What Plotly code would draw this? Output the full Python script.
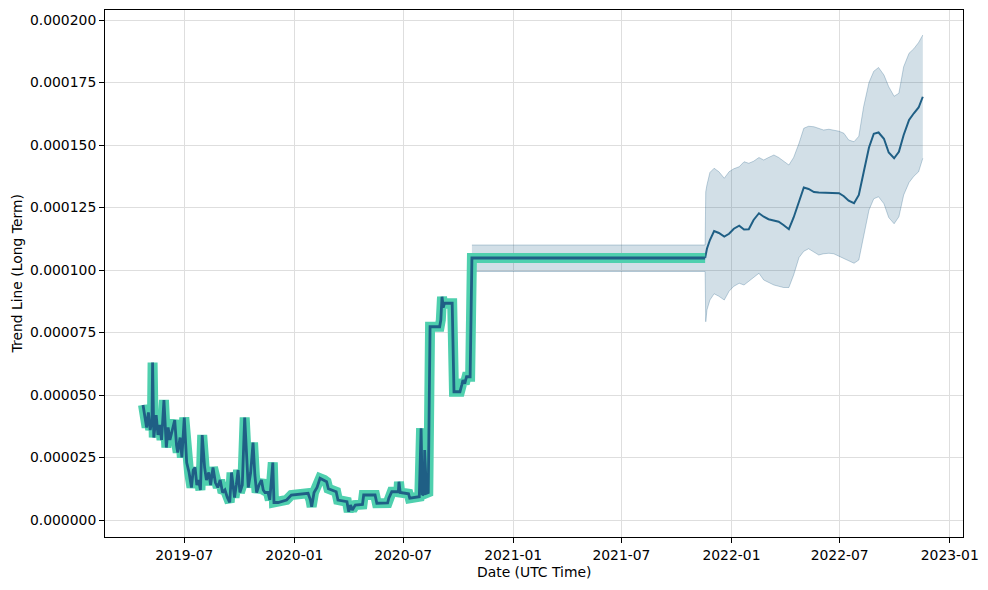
import plotly.graph_objects as go

# ---------------- data (values in units of 1e-6) ----------------
hist_dates = [
    "2019-04-23", "2019-04-26", "2019-04-29", "2019-05-02", "2019-05-05", "2019-05-08",
    "2019-05-09", "2019-05-11", "2019-05-15", "2019-05-18", "2019-05-21", "2019-05-24",
    "2019-05-28", "2019-06-01", "2019-06-04", "2019-06-07", "2019-06-11", "2019-06-15",
    "2019-06-18", "2019-06-20", "2019-06-24", "2019-06-27", "2019-07-01", "2019-07-05",
    "2019-07-09", "2019-07-13", "2019-07-16", "2019-07-19", "2019-07-22", "2019-07-25",
    "2019-07-28", "2019-07-31", "2019-08-04", "2019-08-07", "2019-08-11", "2019-08-14",
    "2019-08-18", "2019-08-22", "2019-08-26", "2019-08-30", "2019-09-03", "2019-09-07",
    "2019-09-11", "2019-09-15", "2019-09-18", "2019-09-21", "2019-09-23", "2019-09-26",
    "2019-09-29", "2019-10-02", "2019-10-06", "2019-10-10", "2019-10-13", "2019-10-16",
    "2019-10-20", "2019-10-24", "2019-10-27", "2019-10-30", "2019-11-03", "2019-11-07",
    "2019-11-10", "2019-11-13", "2019-11-18", "2019-11-21", "2019-11-26", "2019-11-28",
    "2019-12-05", "2019-12-19", "2019-12-27", "2020-01-10", "2020-01-24", "2020-01-28",
    "2020-01-30", "2020-02-03", "2020-02-08", "2020-02-13", "2020-02-20", "2020-02-24",
    "2020-02-27", "2020-03-03", "2020-03-11", "2020-03-14", "2020-03-29", "2020-04-01",
    "2020-04-04", "2020-04-07", "2020-04-12", "2020-04-24", "2020-04-26", "2020-05-15",
    "2020-05-18", "2020-06-05", "2020-06-07", "2020-06-12", "2020-06-23", "2020-06-24",
    "2020-06-26", "2020-07-10", "2020-07-12", "2020-07-28", "2020-07-31", "2020-08-02",
    "2020-08-05", "2020-08-06", "2020-08-09", "2020-08-12", "2020-08-15", "2020-08-31",
    "2020-09-02", "2020-09-04", "2020-09-06", "2020-09-08", "2020-09-21", "2020-09-24",
    "2020-10-04", "2020-10-07", "2020-10-09", "2020-10-12", "2020-10-15", "2020-10-21",
    "2020-10-24", "2021-11-18",
]
hist_trend_u = [
    46, 41, 37, 43, 36, 40,
    63, 33, 42, 34, 38, 32,
    48, 29, 37, 32, 36, 40,
    30, 27, 33, 25, 41, 23,
    19, 13, 20, 21, 14, 16,
    12, 34, 21, 16, 19, 14,
    21, 15, 13, 16, 11, 12,
    9, 7, 19, 11, 9, 14,
    20, 11, 14, 41, 27, 13,
    19, 31, 18, 11, 14, 16,
    12, 11, 11, 8, 23, 7,
    7, 8, 10, 10.4, 10.7, 8,
    5.3, 11, 13, 16.7, 16, 15.3,
    12.5, 12, 11.3, 8, 7.3, 3.3,
    6, 4, 6, 6.2, 10, 10,
    6.7, 6.8, 8.7, 11.3, 11.3, 15.3,
    11, 10.5, 8.7, 9.3, 36.7, 10,
    10.5, 28, 10.7, 11, 77.3, 77.3,
    80, 89.3, 85, 86.7, 86.7, 51.3,
    51.3, 54, 56, 54.5, 57.3, 57.3,
    104.8, 104.8,
]

fc_dates = [
    "2021-11-18", "2021-11-21", "2021-11-26", "2021-12-03", "2021-12-11", "2021-12-20",
    "2021-12-28", "2022-01-05", "2022-01-14", "2022-01-22", "2022-01-30", "2022-02-07",
    "2022-02-16", "2022-02-24", "2022-03-04", "2022-03-13", "2022-03-21", "2022-03-29",
    "2022-04-07", "2022-04-15", "2022-04-24", "2022-05-02", "2022-05-10", "2022-05-19",
    "2022-05-27", "2022-06-04", "2022-06-13", "2022-06-21", "2022-06-30", "2022-07-08",
    "2022-07-16", "2022-07-25", "2022-08-02", "2022-08-10", "2022-08-19", "2022-08-27",
    "2022-09-04", "2022-09-13", "2022-09-21", "2022-09-30", "2022-10-08", "2022-10-16",
    "2022-10-25", "2022-11-02", "2022-11-10", "2022-11-17",
]
fc_trend_u = [
    104.8, 108.5, 112, 115.6, 114.8, 113.4,
    114.5, 116.5, 117.7, 116.2, 116.3, 120,
    122.7, 121.3, 120.3, 119.7, 119.3, 118,
    116.3, 121, 127.5, 133, 132.4, 131.2,
    131, 131, 130.8, 130.8, 130.7, 129.5,
    127.7, 126.7, 130, 139, 149, 154.5,
    155, 152.5, 147, 144.7, 147.3, 154,
    160, 162.7, 165, 169.3,
]

band_dates = [
    "2020-10-24", "2021-11-18",
    "2021-11-19", "2021-11-21", "2021-11-26", "2021-12-03", "2021-12-11", "2021-12-20",
    "2021-12-28", "2022-01-05", "2022-01-14", "2022-01-22", "2022-01-30", "2022-02-07",
    "2022-02-16", "2022-02-24", "2022-03-04", "2022-03-13", "2022-03-21", "2022-03-29",
    "2022-04-07", "2022-04-15", "2022-04-24", "2022-05-02", "2022-05-10", "2022-05-19",
    "2022-05-27", "2022-06-04", "2022-06-13", "2022-06-21", "2022-06-30", "2022-07-08",
    "2022-07-16", "2022-07-25", "2022-08-02", "2022-08-10", "2022-08-19", "2022-08-27",
    "2022-09-04", "2022-09-13", "2022-09-21", "2022-09-30", "2022-10-08", "2022-10-16",
    "2022-10-25", "2022-11-02", "2022-11-10", "2022-11-17",
]
band_upper_u = [
    110, 110,
    131.3, 134, 139, 140.7, 139.3, 136.7,
    139.3, 140.5, 141.3, 143.3, 142.7, 143.5,
    145, 144, 145, 146, 145, 143.5,
    142, 145, 150.7, 156.7, 157.5, 157.3,
    156.5, 156, 156.3, 156, 155.5, 154.7,
    152, 151.3, 153.5, 165.3, 175, 179.5,
    181, 178, 173.3, 169.5, 170.7, 181.3,
    186.7, 188.5, 191, 194,
]
band_lower_u = [
    99.4, 99.4,
    79.3, 84, 88, 90.5, 89.5, 88,
    91.5, 93.5, 94.7, 94, 95.5, 97,
    98.7, 96, 95, 94, 93.5, 93,
    93, 98, 105, 107.5, 108.5, 107,
    106, 106.5, 106.7, 106.5, 105.5, 104.5,
    103.5, 102.7, 104, 114, 124, 128.5,
    129.3, 126.5, 121, 118.5, 121.3, 130,
    135, 137.5, 139.3, 144.7,
]

x_tick_vals = ["2019-07-01", "2020-01-01", "2020-07-01", "2021-01-01",
               "2021-07-01", "2022-01-01", "2022-07-01", "2023-01-01"]
x_tick_text = ["2019-07", "2020-01", "2020-07", "2021-01",
               "2021-07", "2022-01", "2022-07", "2023-01"]
y_tick_vals_u = [0, 25, 50, 75, 100, 125, 150, 175, 200]

SCALE = 1e-6
hist_trend = [v * SCALE for v in hist_trend_u]
fc_trend = [v * SCALE for v in fc_trend_u]
band_upper = [v * SCALE for v in band_upper_u]
band_lower = [v * SCALE for v in band_lower_u]
y_tick_vals = [v * SCALE for v in y_tick_vals_u]

# ---------------- styles ----------------
DARK = "#1f5f85"
GREEN = "#4fd0ae"
FONT = "DejaVu Sans"
FS = 13.9

fig = go.Figure()

fig.add_trace(go.Scatter(x=band_dates, y=band_lower, mode="lines",
                         line=dict(color="rgba(31,95,133,0.28)", width=1),
                         showlegend=False, hoverinfo="skip"))
fig.add_trace(go.Scatter(x=band_dates, y=band_upper, mode="lines",
                         line=dict(color="rgba(31,95,133,0.28)", width=1),
                         fill="tonexty", fillcolor="rgba(31,95,133,0.2)",
                         showlegend=False, hoverinfo="skip"))
fig.add_trace(go.Scatter(x=fc_dates, y=fc_trend, mode="lines",
                         line=dict(color=DARK, width=2),
                         showlegend=False))
fig.add_trace(go.Scatter(x=hist_dates, y=hist_trend, mode="lines",
                         line=dict(color=GREEN, width=10),
                         showlegend=False, hoverinfo="skip"))
fig.add_trace(go.Scatter(x=hist_dates, y=hist_trend, mode="lines",
                         line=dict(color=DARK, width=2.8),
                         showlegend=False))

axis_common = dict(
    showline=True, mirror=True, linecolor="black", linewidth=1,
    ticks="outside", ticklen=5, tickwidth=1, tickcolor="black",
    showgrid=True, gridcolor="#dedede", gridwidth=1, zeroline=False,
    tickfont=dict(family=FONT, size=FS, color="black"),
)

fig.update_xaxes(type="date", range=["2019-02-18 10:00", "2023-01-23 05:00"],
                 tickvals=x_tick_vals, ticktext=x_tick_text, **axis_common)
fig.update_yaxes(range=[-6.8e-6, 2.04e-4], tickvals=y_tick_vals,
                 tickformat=".6f", **axis_common)

fig.update_layout(
    width=988, height=590,
    margin=dict(l=105, r=25, t=10, b=53),
    paper_bgcolor="white", plot_bgcolor="white",
    font=dict(family=FONT, size=FS, color="black"),
    showlegend=False,
    annotations=[
        dict(text="Date (UTC Time)", xref="paper", yref="paper",
             x=0.5, y=-0.0664, xanchor="center", yanchor="middle",
             showarrow=False, font=dict(family=FONT, size=FS, color="black")),
        dict(text="Trend Line (Long Term)", xref="paper", yref="paper",
             x=-0.1026, y=0.5, xanchor="center", yanchor="middle", textangle=-90,
             showarrow=False, font=dict(family=FONT, size=FS, color="black")),
    ],
)

fig.write_html("out.html")
